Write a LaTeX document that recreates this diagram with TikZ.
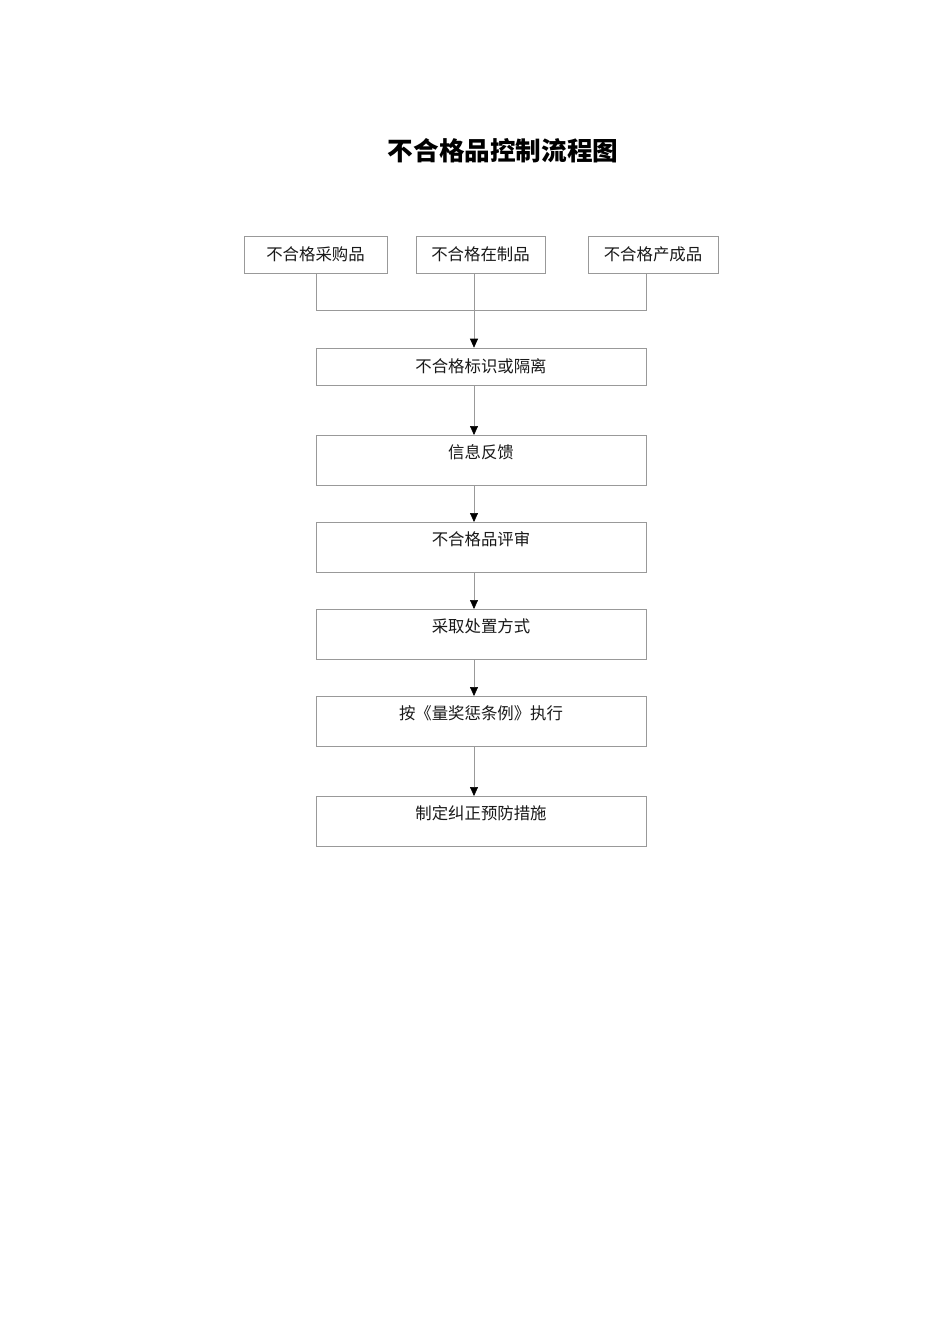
\documentclass[tikz,border=0pt]{standalone}
\usepackage{fontspec}
\setmainfont{Noto Sans CJK SC}
\usetikzlibrary{arrows.meta,calc}
\begin{document}
\begin{tikzpicture}[x=1pt,y=-1pt,
  box/.style={draw=black!40,line width=0.6pt,inner sep=0pt,font=\fontsize{16.4}{19}\selectfont,text=black!90},
  topbox/.style={box,minimum height=37pt},
  wide/.style={box,minimum width=330pt,minimum height=37pt},
  tall/.style={box,minimum width=330pt,text width=330pt,align=center,text height=23pt,text depth=27pt},
  conn/.style={draw=black!40,line width=0.6pt},
  arr/.style={conn,-{Triangle[width=8pt,length=9pt,color=black,fill=black]}}]
\path[use as bounding box,fill=white] (0,0) rectangle (950,1344);
\node[font=\bfseries\fontsize{25.6}{30}\selectfont] (title) at (503,151) {不合格品控制流程图};
\node[topbox,minimum width=143pt] (b1) at (315.5,254.5) {不合格采购品};
\node[topbox,minimum width=129pt] (b2) at (480.5,254.5) {不合格在制品};
\node[topbox,minimum width=130pt] (b3) at (653,254.5) {不合格产成品};
\coordinate (j) at (474,310);
\coordinate (jl) at (316,310);
\coordinate (jr) at (646,310);
\node[wide] (c1) at (481,366.5) {不合格标识或隔离};
\node[tall,anchor=north] (c2) at (481,435) {信息反馈};
\node[tall,anchor=north] (c3) at (481,522) {不合格品评审};
\node[tall,anchor=north] (c4) at (481,609) {采取处置方式};
\node[tall,anchor=north] (c5) at (481,696) {按《量奖惩条例》执行};
\node[tall,anchor=north] (c6) at (481,796) {制定纠正预防措施};
\draw[conn] (b1.south -| jl) -- (jl) -- (jr) -- (b3.south -| jr);
\draw[conn] (b2.south -| j) -- (j);
\draw[arr] (j) -- (j |- c1.north);
\draw[arr] (c1.south -| j) -- (c2.north -| j);
\draw[arr] (c2.south -| j) -- (c3.north -| j);
\draw[arr] (c3.south -| j) -- (c4.north -| j);
\draw[arr] (c4.south -| j) -- (c5.north -| j);
\draw[arr] (c5.south -| j) -- (c6.north -| j);
\end{tikzpicture}
\end{document}
